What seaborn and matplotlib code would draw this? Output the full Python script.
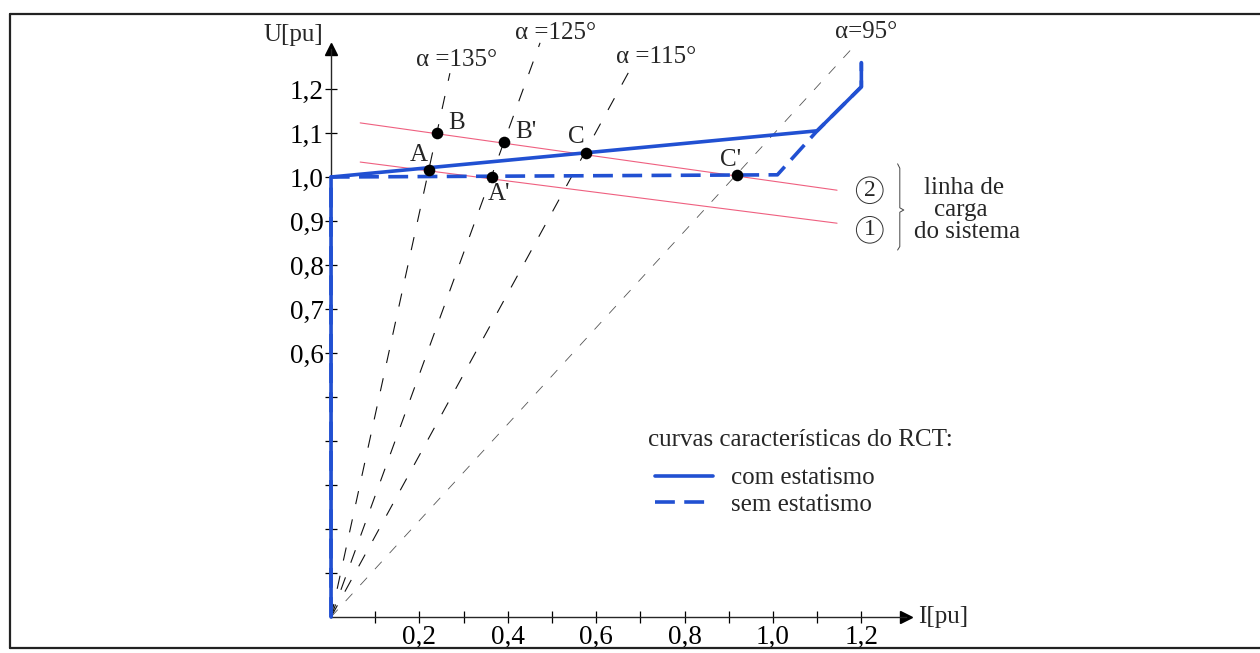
import numpy as np
import pandas as pd
import matplotlib
matplotlib.use("Agg")
import matplotlib.pyplot as plt
from matplotlib.lines import Line2D
import seaborn as sns

# ---------------- data ----------------
# RCT characteristic curves (I [pu], U [pu])
com_I = [0.0, 0.0, 1.10, 1.20, 1.20]
com_U = [0.0, 1.00, 1.105, 1.205, 1.26]
sem_I = [0.0, 0.0, 1.01, 1.10, 1.20, 1.20]
sem_U = [0.0, 1.00, 1.005, 1.105, 1.205, 1.26]

# system load lines (1) and (2)
load1_I = [0.066, 1.145]
load1_U = [1.034, 0.895]
load2_I = [0.066, 1.145]
load2_U = [1.123, 0.970]

# firing-angle lines from origin
alpha_labels = ["α =135°", "α =125°", "α =115°", "α=95°"]
alpha_I_end = [0.269, 0.473, 0.676, 1.186]
alpha_U_end = [1.236, 1.305, 1.243, 1.300]
alpha_lbl_I = [0.285, 0.507, 0.735, 1.210]
alpha_lbl_U = [1.266, 1.327, 1.273, 1.330]

# operating points
pt_names = ["A", "A'", "B", "B'", "C", "C'"]
pt_I = [0.222, 0.364, 0.240, 0.391, 0.577, 0.918]
pt_U = [1.016, 1.000, 1.100, 1.080, 1.055, 1.005]
pt_lbl_I = [0.179, 0.355, 0.265, 0.416, 0.536, 0.880]
pt_lbl_U = [1.050, 0.962, 1.123, 1.102, 1.091, 1.039]

x_ticks = [0.1, 0.2, 0.3, 0.4, 0.5, 0.6, 0.7, 0.8, 0.9, 1.0, 1.1, 1.2]
x_labels = ["", "0,2", "", "0,4", "", "0,6", "", "0,8", "", "1,0", "", "1,2"]
y_ticks = [0.1, 0.2, 0.3, 0.4, 0.5, 0.6, 0.7, 0.8, 0.9, 1.0, 1.1, 1.2]
y_labels = ["", "", "", "", "", "0,6", "0,7", "0,8", "0,9", "1,0", "1,1", "1,2"]

brace_I = [1.282, 1.287, 1.287, 1.296, 1.287, 1.287, 1.282]
brace_U = [1.030, 1.020, 0.930, 0.925, 0.920, 0.842, 0.834]

# ---------------- style ----------------
sns.set_style("white")
plt.rcParams["font.family"] = ["Liberation Serif", "DejaVu Serif"]
FS = 18
TFS = 19.5
BLUE = "#2150d2"
PINK = "#ef6080"

fig = plt.figure(figsize=(12.6, 6.53), dpi=100)
ax = fig.add_axes([0, 0, 1, 1])
ax.set_xlim(-0.749, 2.102)
ax.set_ylim(-0.0818, 1.4023)
ax.patch.set_alpha(0)

# frame (left, top, bottom)
W, H = 1260, 653
fr = dict(color="#222", lw=1.6, transform=fig.transFigure, clip_on=False)
fig.add_artist(Line2D([10 / W, 10 / W], [1 - 14 / H, 1 - 648 / H], **fr))
fig.add_artist(Line2D([10 / W, 1.0], [1 - 14 / H, 1 - 14 / H], **fr))
fig.add_artist(Line2D([10 / W, 1.0], [1 - 648 / H, 1 - 648 / H], **fr))

# axes spines as arrows
for s in ["top", "right"]:
    ax.spines[s].set_visible(False)
ax.spines["left"].set_position(("data", 0))
ax.spines["bottom"].set_position(("data", 0))
ax.spines["left"].set_bounds(0, 1.29)
ax.spines["bottom"].set_bounds(0, 1.30)
ax.spines["left"].set_linewidth(1.0)
ax.spines["bottom"].set_linewidth(1.0)
ax.plot([1.30], [0], marker=">", ms=9, color="black", clip_on=False)
ax.plot([0], [1.29], marker="^", ms=9, color="black", clip_on=False)

ax.set_xticks(x_ticks)
ax.set_xticklabels(x_labels)
ax.set_yticks(y_ticks)
ax.set_yticklabels(y_labels)
ax.tick_params(axis="both", which="major", direction="inout", length=9, width=0.9,
               labelsize=TFS, colors="black", pad=1,
               bottom=True, left=True, top=False, right=False)
ax.text(-0.018, 1.323, "U[pu]", fontsize=FS, ha="right", va="center")
ax.text(1.328, 0.0, "I[pu]", fontsize=FS, ha="left", va="center")

# angle lines
for i, (xe, ye) in enumerate(zip(alpha_I_end, alpha_U_end)):
    c = "#555555" if i == 3 else "#111111"
    lw = 0.6 if i == 3 else 0.8
    ax.plot([0, xe], [0, ye], color=c, lw=lw, dashes=(12, 14), zorder=2)
    ax.text(alpha_lbl_I[i], alpha_lbl_U[i], alpha_labels[i], fontsize=FS,
            ha="center", va="center")

# load lines
ax.plot(load1_I, load1_U, color=PINK, lw=0.8, zorder=2)
ax.plot(load2_I, load2_U, color=PINK, lw=0.8, zorder=2)

# RCT curves via seaborn
df = pd.concat([
    pd.DataFrame({"I": com_I, "U": com_U, "curva": "com estatismo"}),
    pd.DataFrame({"I": sem_I, "U": sem_U, "curva": "sem estatismo"}),
], ignore_index=True)
sns.lineplot(data=df, x="I", y="U", style="curva", sort=False, estimator=None,
             color=BLUE, lw=2.6, dashes={"com estatismo": "", "sem estatismo": (5.5, 2.6)},
             ax=ax, legend=True, zorder=3)
handles, labels = ax.get_legend_handles_labels()
if ax.get_legend() is not None:
    ax.get_legend().remove()
for h in handles:
    h.set_color(BLUE)
    h.set_linewidth(2.6)

# points
pts = pd.DataFrame({"I": pt_I, "U": pt_U, "nome": pt_names})
sns.scatterplot(data=pts, x="I", y="U", color="black", s=70, edgecolor="black",
                linewidth=0, ax=ax, zorder=4, legend=False)
ax.set_xlabel("")
ax.set_ylabel("")
for n, xl, yl in zip(pt_names, pt_lbl_I, pt_lbl_U):
    ax.text(xl, yl, n, fontsize=FS, ha="left", va="center")

# right annotation
ax.text(1.219, 0.970, "2", fontsize=FS - 1, ha="center", va="center",
        bbox=dict(boxstyle="circle,pad=0.12", fc="white", ec="#333", lw=0.7))
ax.text(1.219, 0.880, "1", fontsize=FS - 1, ha="center", va="center",
        bbox=dict(boxstyle="circle,pad=0.12", fc="white", ec="#333", lw=0.7))
ax.plot(brace_I, brace_U, color="#444", lw=0.7, clip_on=False)
ax.text(1.433, 0.975, "linha de", fontsize=FS, ha="center", va="center")
ax.text(1.426, 0.925, "carga", fontsize=FS, ha="center", va="center")
ax.text(1.440, 0.875, "do sistema", fontsize=FS, ha="center", va="center")

# legend
fig.text(648 / W, 1 - 440 / H, "curvas características do RCT:", fontsize=FS,
         ha="left", va="center")
leg = ax.legend(handles[-2:], labels[-2:], loc="upper left",
                bbox_to_anchor=(655 / W, 1 - 467 / H), bbox_transform=fig.transFigure,
                frameon=False, fontsize=FS, handlelength=2.3, handletextpad=0.75,
                labelspacing=0.15, borderpad=0, borderaxespad=0)

fig.savefig("out.png", dpi=100)
